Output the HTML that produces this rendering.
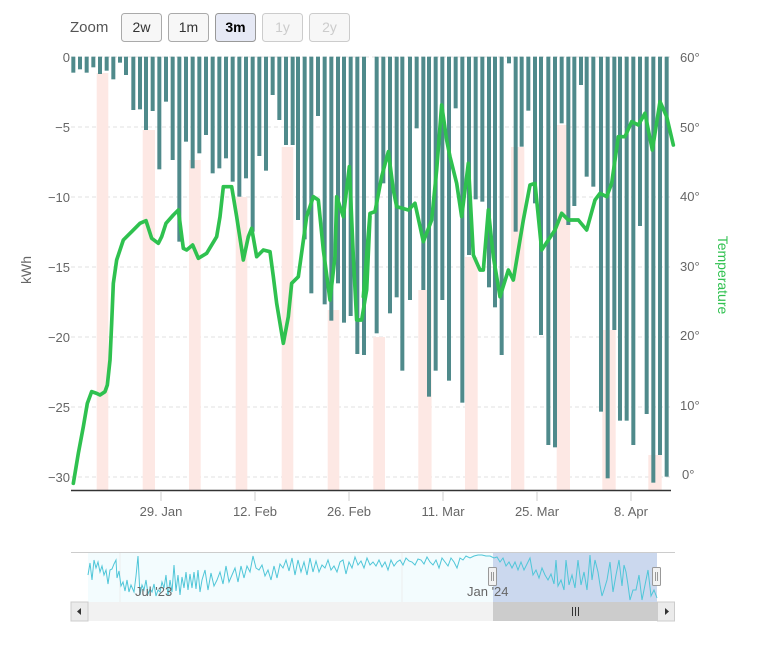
<!DOCTYPE html>
<html><head><meta charset="utf-8"><style>
body{margin:0;background:#fff;width:768px;height:640px;overflow:hidden;font-family:"Liberation Sans",sans-serif}
</style></head><body>
<svg width="768" height="640" viewBox="0 0 768 640" xmlns="http://www.w3.org/2000/svg" font-family="Liberation Sans, sans-serif">
<!-- zoom buttons -->
<text x="70" y="32" font-size="15" fill="#555">Zoom</text>
<g font-size="14" text-anchor="middle">
<rect x="121.5" y="13.5" width="40" height="28" rx="3" fill="#f7f7f7" stroke="#aaa"/><text x="141.5" y="32" fill="#333">2w</text>
<rect x="168.5" y="13.5" width="40" height="28" rx="3" fill="#f7f7f7" stroke="#aaa"/><text x="188.5" y="32" fill="#333">1m</text>
<rect x="215.5" y="13.5" width="40" height="28" rx="3" fill="#e6e9f5" stroke="#999"/><text x="235.5" y="32" fill="#000" font-weight="bold">3m</text>
<rect x="262.5" y="13.5" width="40" height="28" rx="3" fill="#f7f7f7" stroke="#ccc"/><text x="282.5" y="32" fill="#ccc">1y</text>
<rect x="309.5" y="13.5" width="40" height="28" rx="3" fill="#f7f7f7" stroke="#ccc"/><text x="329.5" y="32" fill="#ccc">2y</text>
</g>
<!-- gridlines -->
<g stroke="#e0e0e0" stroke-dasharray="4,3">
<line x1="71" x2="671" y1="57" y2="57"/><line x1="71" x2="671" y1="127" y2="127"/><line x1="71" x2="671" y1="197" y2="197"/>
<line x1="71" x2="671" y1="267" y2="267"/><line x1="71" x2="671" y1="337" y2="337"/><line x1="71" x2="671" y1="407" y2="407"/><line x1="71" x2="671" y1="477" y2="477"/>
</g>
<!-- pink bands -->
<g fill="#fde8e4">
<rect x="96.7" y="73" width="11.6" height="417"/>
<rect x="142.7" y="130" width="12.3" height="360"/>
<rect x="189" y="160" width="11.7" height="330"/>
<rect x="235.7" y="197" width="11.6" height="293"/>
<rect x="281.7" y="147" width="11.6" height="343"/>
<rect x="327.7" y="310" width="11.6" height="180"/>
<rect x="373.3" y="337" width="11.7" height="153"/>
<rect x="418.3" y="290" width="13.3" height="200"/>
<rect x="465" y="257" width="12.7" height="233"/>
<rect x="511" y="147" width="13.3" height="343"/>
<rect x="556.7" y="125" width="13.3" height="365"/>
<rect x="602.3" y="330" width="13.4" height="160"/>
<rect x="648.3" y="455" width="13.4" height="35"/>
</g>
<!-- bars (zoom-4 coords) -->
<g transform="translate(60,50) scale(0.33333)" fill="#4f8a8b">
<rect x="34" y="20" width="12" height="48"/><rect x="54" y="20" width="12" height="38"/><rect x="74" y="20" width="12" height="48"/><rect x="94" y="20" width="12" height="32"/>
<rect x="114" y="20" width="12" height="52"/><rect x="134" y="20" width="12" height="42"/><rect x="154" y="20" width="12" height="68"/><rect x="174" y="20" width="12" height="18"/>
<rect x="192" y="20" width="12" height="55"/><rect x="214" y="20" width="12" height="160"/><rect x="234" y="20" width="12" height="158"/><rect x="252" y="20" width="12" height="220"/>
<rect x="272" y="20" width="12" height="163"/><rect x="292" y="20" width="12" height="338"/><rect x="312" y="20" width="12" height="135"/><rect x="332" y="20" width="12" height="310"/>
<rect x="352" y="20" width="12" height="555"/><rect x="372" y="20" width="12" height="255"/><rect x="392" y="20" width="12" height="335"/><rect x="412" y="20" width="12" height="290"/>
<rect x="432" y="20" width="12" height="235"/><rect x="452" y="20" width="12" height="350"/><rect x="472" y="20" width="12" height="335"/><rect x="492" y="20" width="12" height="305"/>
<rect x="512" y="20" width="12" height="375"/><rect x="532" y="20" width="12" height="420"/><rect x="552" y="20" width="12" height="365"/><rect x="572" y="20" width="12" height="525"/>
<rect x="592" y="20" width="12" height="298"/><rect x="612" y="20" width="12" height="342"/><rect x="632" y="20" width="12" height="115"/><rect x="652" y="20" width="12" height="190"/>
<rect x="672" y="20" width="12" height="265"/><rect x="692" y="20" width="12" height="265"/><rect x="708" y="20" width="12" height="490"/><rect x="728" y="20" width="12" height="548"/>
<rect x="748" y="20" width="12" height="710"/><rect x="768" y="20" width="12" height="178"/><rect x="788" y="20" width="12" height="743"/><rect x="808" y="20" width="12" height="792"/>
<rect x="828" y="20" width="12" height="680"/><rect x="846" y="20" width="12" height="798"/><rect x="866" y="20" width="12" height="778"/><rect x="886" y="20" width="12" height="892"/>
<rect x="906" y="20" width="12" height="895"/>
</g>
<g transform="translate(365,50) scale(0.33333)" fill="#4f8a8b">
<rect x="29" y="20" width="12" height="830"/><rect x="49" y="20" width="12" height="380"/><rect x="69" y="20" width="12" height="770"/><rect x="89" y="20" width="12" height="722"/>
<rect x="106" y="20" width="12" height="942"/><rect x="129" y="20" width="12" height="730"/><rect x="149" y="20" width="12" height="215"/><rect x="169" y="20" width="12" height="700"/>
<rect x="186" y="20" width="12" height="1020"/><rect x="206" y="20" width="12" height="942"/><rect x="226" y="20" width="12" height="730"/><rect x="246" y="20" width="12" height="972"/>
<rect x="266" y="20" width="12" height="155"/><rect x="286" y="20" width="12" height="1038"/><rect x="306" y="20" width="12" height="595"/><rect x="326" y="20" width="12" height="428"/>
<rect x="346" y="20" width="12" height="435"/><rect x="366" y="20" width="12" height="692"/><rect x="384" y="20" width="12" height="752"/><rect x="404" y="20" width="12" height="895"/>
<rect x="426" y="20" width="12" height="20"/><rect x="446" y="20" width="12" height="525"/><rect x="464" y="20" width="12" height="270"/><rect x="484" y="20" width="12" height="162"/>
<rect x="504" y="20" width="12" height="440"/><rect x="522" y="20" width="12" height="835"/><rect x="544" y="20" width="12" height="1165"/><rect x="564" y="20" width="12" height="1172"/>
<rect x="584" y="20" width="12" height="200"/><rect x="604" y="20" width="12" height="505"/><rect x="622" y="20" width="12" height="448"/><rect x="642" y="20" width="12" height="85"/>
<rect x="659" y="20" width="12" height="360"/><rect x="679" y="20" width="12" height="390"/><rect x="702" y="20" width="12" height="1065"/><rect x="722" y="20" width="12" height="1265"/>
<rect x="742" y="20" width="12" height="820"/><rect x="759" y="20" width="12" height="1092"/><rect x="779" y="20" width="12" height="1092"/><rect x="799" y="20" width="12" height="1165"/>
<rect x="819" y="20" width="12" height="508"/><rect x="839" y="20" width="12" height="1072"/><rect x="859" y="20" width="12" height="1278"/><rect x="879" y="20" width="12" height="1195"/>
<rect x="899" y="20" width="12" height="1260"/>
</g>
<!-- temperature line -->
<g fill="none" stroke="#2fc14f" stroke-linejoin="round" stroke-linecap="round">
<polyline transform="translate(60,50) scale(0.33333)" stroke-width="11" points="40,1300 55,1210 70,1130 82,1060 95,1025 110,1030 120,1035 135,1025 142,1005 150,930 155,820 160,700 170,630 190,570 215,545 240,520 258,512 275,565 295,580 305,560 318,520 340,495 355,480 370,595 380,600 398,585 415,625 440,610 470,560 480,500 490,410 515,410 530,500 550,630 565,560 575,535 590,620 610,600 630,605 640,680 650,760 670,880 685,800 695,700 715,680 740,500 760,440 775,450 790,600 810,750 825,620 830,440 850,500 868,350 880,620 890,810 905,810 920,720 930,500"/>
<polyline transform="translate(365,50) scale(0.33333)" stroke-width="11" points="-5,740 15,490 30,485 50,380 70,305 85,420 95,470 130,480 150,460 175,575 200,510 215,360 230,165 245,270 255,320 275,400 290,500 310,340 325,615 345,660 355,660 370,480 385,620 405,740 430,660 445,690 475,510 495,405 510,400 530,600 550,570 570,540 590,490 610,510 640,510 665,540 690,450 705,430 725,440 740,400 760,260 780,260 800,215 820,225 840,190 862,300 885,155 905,200 925,285"/>
</g>
<!-- axes -->
<line x1="71" x2="671" y1="490.5" y2="490.5" stroke="#333" stroke-width="1.5"/>
<g stroke="#ccc"><line x1="161" x2="161" y1="491" y2="501"/><line x1="255" x2="255" y1="491" y2="501"/><line x1="349" x2="349" y1="491" y2="501"/><line x1="443" x2="443" y1="491" y2="501"/><line x1="537" x2="537" y1="491" y2="501"/><line x1="631" x2="631" y1="491" y2="501"/></g>
<g font-size="13" fill="#666" text-anchor="middle">
<text x="161" y="516">29. Jan</text><text x="255" y="516">12. Feb</text><text x="349" y="516">26. Feb</text><text x="443" y="516">11. Mar</text><text x="537" y="516">25. Mar</text><text x="631" y="516">8. Apr</text>
</g>
<g font-size="13" fill="#666" text-anchor="end">
<text x="70" y="62">0</text><text x="70" y="132">−5</text><text x="70" y="202">−10</text><text x="70" y="272">−15</text><text x="70" y="342">−20</text><text x="70" y="412">−25</text><text x="70" y="482">−30</text>
</g>
<g font-size="13" fill="#666">
<text x="680" y="62">60°</text><text x="680" y="132">50°</text><text x="680" y="201">40°</text><text x="680" y="271">30°</text><text x="680" y="340">20°</text><text x="680" y="410">10°</text><text x="682" y="479">0°</text>
</g>
<text transform="translate(31,270) rotate(-90)" font-size="14" fill="#666" text-anchor="middle">kWh</text>
<text transform="translate(718,275) rotate(90)" font-size="14" fill="#2fc14f" text-anchor="middle">Temperature</text>
<!-- navigator -->
<line x1="71" x2="675" y1="552.5" y2="552.5" stroke="#ccc"/>
<rect x="88" y="553" width="569" height="49" fill="#f3fcfe"/>
<rect x="493" y="553" width="164" height="49" fill="#cbd8ee"/>
<line x1="120" x2="120" y1="553" y2="602" stroke="#eee"/>
<line x1="402" x2="402" y1="553" y2="602" stroke="#eee"/>
<polyline fill="none" stroke="#4fc6d8" stroke-width="1" points="88,575 90,563 92,580 94,560 96,568 98,562 100,572 102,566 104,575 106,570 108,584 110,570 112,569 114,564 116,560 117,578 119,571 121,586 123,582 125,591 127,580 129,592 131,585 134,592 136,576 138,556 140,595 142,585 144,590 146,580 148,594 150,589 152,592 154,584 156,596 158,590 160,592 162,582 164,588 166,575 168,596 170,580 172,592 174,565 176,591 178,575 180,595 182,577 184,588 186,572 188,590 190,574 192,588 194,572 196,589 198,570 200,592 202,580 205,570 208,590 211,573 214,586 217,580 220,572 223,584 226,566 229,582 232,575 235,568 238,582 241,566 244,578 247,566 250,572 253,556 256,568 259,570 262,565 265,576 268,570 271,580 274,566 277,578 280,564 283,568 286,560 289,571 292,558 295,575 298,560 301,572 304,562 307,575 310,558 313,572 316,561 319,572 322,565 325,568 328,560 331,570 334,566 337,572 340,562 343,560 346,574 349,562 352,568 355,557 358,565 361,561 364,568 367,558 370,565 373,562 376,566 379,560 382,567 385,562 388,570 391,560 394,566 397,562 400,560 403,565 406,558 409,561 412,562 415,565 418,559 421,560 424,564 427,557 430,562 433,565 436,560 439,568 442,558 445,562 448,566 451,558 454,562 457,568 460,558 463,560 466,556 470,558 474,556 478,555 482,555 486,556 490,556 494,558 497,557 500,562 503,558 506,566 509,562 512,568 515,562 518,570 521,562 524,570 527,564 530,558 533,575 536,570 539,578 542,568 545,575 548,580 551,574 554,584 556,560 558,586 561,580 564,590 566,560 569,585 572,575 575,588 578,560 581,585 584,572 587,590 590,555 592,580 595,560 598,572 600,585 602,596 604,590 607,580 610,562 613,592 616,575 619,560 622,586 624,565 626,572 628,585 630,600 633,590 636,590 639,575 642,600 645,585 648,570 651,596 654,590 657,598"/>
<text x="135" y="596" font-size="13" fill="#666">Jul '23</text>
<text x="467" y="596" font-size="13" fill="#666">Jan '24</text>
<rect x="488.5" y="567.5" width="8" height="18" rx="1" fill="#f2f2f2" stroke="#999"/>
<line x1="491.5" x2="491.5" y1="572" y2="581" stroke="#999"/><line x1="493.5" x2="493.5" y1="572" y2="581" stroke="#999"/>
<rect x="652.5" y="567.5" width="8" height="18" rx="1" fill="#f2f2f2" stroke="#999"/>
<line x1="655.5" x2="655.5" y1="572" y2="581" stroke="#999"/><line x1="657.5" x2="657.5" y1="572" y2="581" stroke="#999"/>
<!-- scrollbar -->
<rect x="71" y="602" width="604" height="19" fill="#f2f2f2"/>
<rect x="493" y="602" width="164" height="19" fill="#cccccc"/>
<rect x="71" y="602" width="17" height="19" fill="#ebebeb" stroke="#ccc"/>
<rect x="657.5" y="602" width="17" height="19" fill="#ebebeb" stroke="#ccc"/>
<polygon points="81,608 77,611.5 81,615" fill="#333"/>
<polygon points="665,608 669,611.5 665,615" fill="#333"/>
<g stroke="#333"><line x1="572.5" x2="572.5" y1="607" y2="616"/><line x1="575.5" x2="575.5" y1="607" y2="616"/><line x1="578.5" x2="578.5" y1="607" y2="616"/></g>
</svg>
</body></html>
